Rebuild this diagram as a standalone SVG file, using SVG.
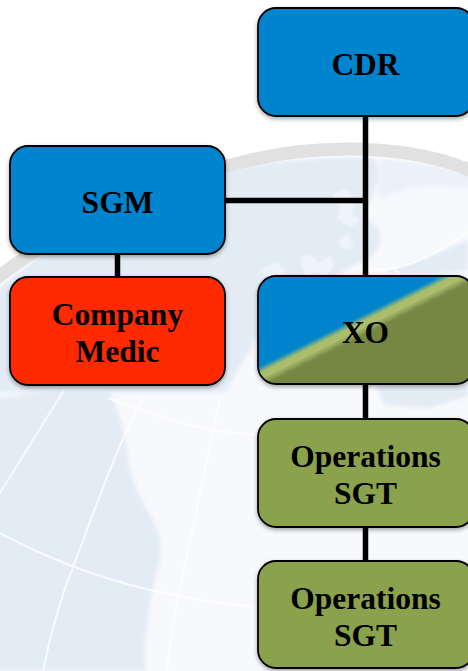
<svg xmlns="http://www.w3.org/2000/svg" width="468" height="671" viewBox="0 0 468 671">
<defs>
<style>
.box{stroke:#000;stroke-width:1.8;filter:url(#sh)}
.lbl{font-family:"Liberation Serif","Times New Roman",serif;font-weight:bold;font-size:31.5px;fill:#000;text-anchor:middle}
.conn{stroke:#000;stroke-width:5.500;fill:none}
.grid{stroke:#fff;stroke-width:2;fill:none;opacity:.8;filter:url(#soft)}
.land{fill:#e3ebf5;filter:url(#bl)}
.isl{fill:#f6f9fd;opacity:.65;filter:url(#bl1)}
</style>
<filter id="sh" x="-10%" y="-10%" width="120%" height="125%"><feDropShadow dx="0" dy="2" stdDeviation="2" flood-color="#000" flood-opacity=".35"/></filter>
<filter id="bl" x="-10%" y="-10%" width="120%" height="120%"><feGaussianBlur stdDeviation="2"/></filter>
<filter id="bl1" x="-20%" y="-20%" width="140%" height="140%"><feGaussianBlur stdDeviation="1.200"/></filter>
<filter id="soft" x="-20%" y="-20%" width="140%" height="140%"><feGaussianBlur stdDeviation=".6"/></filter>
<linearGradient id="xo" gradientUnits="userSpaceOnUse" x1="336" y1="288" x2="376" y2="368">
<stop offset="0" stop-color="#0084cd"/><stop offset=".4" stop-color="#0084cd"/><stop offset=".47" stop-color="#a9bd6c"/><stop offset=".53" stop-color="#a9bd6c"/><stop offset=".61" stop-color="#748741"/><stop offset="1" stop-color="#748741"/>
</linearGradient>
</defs>
<rect id="background" width="468" height="671" fill="#fff"/>
<g id="globe">
<path d="M-10 300C60 225 170 175 250 165C340 152 420 158 478 180V671H-10Z" fill="#f7f9fd"/>
<path class="land" d="M215 172C280 160 330 156 375 158C385 180 372 200 360 215C380 225 392 238 365 262C345 262 340 285 318 278C290 300 262 320 250 350L225 392H-10V295C60 235 140 195 215 172Z"/>
<path class="land" d="M380 158C410 158 445 165 468 175V190C430 180 400 190 378 200Z" opacity=".55"/>
<path class="land" d="M468 240V270C440 275 410 278 385 272C410 265 445 250 468 240Z"/>
<path class="land" d="M376 385H468V396L430 408L385 405Z"/>
<path class="land" d="M60 388H108C118 410 125 430 130 470C140 510 170 530 158 565C150 600 142 640 146 671H-10V400Z"/>
<path d="M-8 282C50 235 150 185 250 160C330 142 420 146 478 174" fill="none" stroke="#e1e1e1" stroke-width="13" filter="url(#soft)"/>
<path class="isl" d="M332 195l14-6 10 10-4 14 8 8-10 6-12-8 2-12z"/>
<path class="isl" d="M300 258l10-4 8 8 12-6 4 10-10 10-10-4-8 6z"/>
<path class="isl" d="M262 270l14-8 10 8-8 10-12 0z"/>
<path class="isl" d="M340 238l8-4 6 10-6 6-8-4z"/>
<path class="grid" d="M0 533C50 560 100 578 150 590C190 599 220 604 258 607"/>
<path class="grid" d="M108 398C145 412 180 424 213 430C230 433 245 434 258 435"/>
<path class="grid" d="M64 390L0 493"/>
<path class="grid" d="M143 397C115 450 95 510 73 567C60 600 50 635 43 671"/>
<path class="grid" d="M220 397C205 470 190 540 177 603C172 630 169 650 167 671"/>
<path class="grid" d="M468 232C430 258 400 272 368 270"/>
<path class="grid" d="M396 270L402 280"/>
</g>
<g id="connectors">
<path class="conn" d="M365.500 116V276"/>
<path class="conn" d="M225 200.500H365"/>
<path class="conn" d="M117.500 254V277"/>
<path class="conn" d="M365.500 384V420"/>
<path class="conn" d="M365.500 527V561"/>
</g>
<g id="cdr"><rect class="box" x="258" y="8" width="216" height="108" rx="18" fill="#0084cd"/><text class="lbl" x="365.500" y="75">CDR</text></g>
<g id="sgm"><rect class="box" x="10" y="146" width="215" height="108" rx="18" fill="#0084cd"/><text class="lbl" x="117.500" y="213">SGM</text></g>
<g id="medic"><rect class="box" x="10" y="277" width="215" height="108" rx="18" fill="#ff2a00"/><text class="lbl" x="117.500" y="325">Company</text><text class="lbl" x="117.500" y="362">Medic</text></g>
<g id="xo"><rect class="box" x="258" y="276" width="216" height="108" rx="18" fill="url(#xo)"/><text class="lbl" x="365.500" y="343">XO</text></g>
<g id="ops1"><rect class="box" x="258" y="419" width="216" height="108" rx="18" fill="#8aa24b"/><text class="lbl" x="365.500" y="467">Operations</text><text class="lbl" x="365.500" y="504">SGT</text></g>
<g id="ops2"><rect class="box" x="258" y="561" width="216" height="107" rx="18" fill="#8aa24b"/><text class="lbl" x="365.500" y="609">Operations</text><text class="lbl" x="365.500" y="646">SGT</text></g>
</svg>
